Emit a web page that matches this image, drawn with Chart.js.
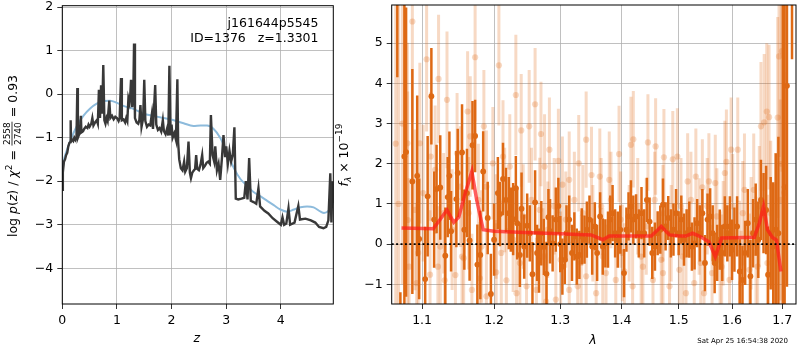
<!DOCTYPE html>
<html lang="en">
<head>
<meta charset="utf-8" />
<script src="https://cdn.jsdelivr.net/npm/chart.js@4.4.1/dist/chart.umd.min.js"></script>
<style>
  body { margin: 0; background: #fff; }
  #wrap { position: relative; width: 800px; height: 350px; }
  canvas { position: absolute; top: 0; }
  #pz { left: 0; }
  #spec { left: 335px; }
</style>
<title>p(z) + spectrum</title>
</head>
<body>
<div id="wrap">
  <canvas id="pz" width="340" height="350"></canvas>
  <canvas id="spec" width="465" height="350"></canvas>
</div>
<script>
// --- left panel: log p(z) ---
const zGrid = [0.00,0.01,0.03,0.05,0.07,0.09,0.11,0.13,0.145,0.153,0.16,0.18,0.20,0.22,0.24,0.26,0.275,0.285,0.30,0.32,
  0.34,0.35,0.38,0.40,0.43,0.46,0.48,0.50,0.53,0.55,0.57,0.60,0.63,0.65,0.67,0.69,0.71,0.73,0.75,0.77,
  0.79,0.81,0.83,0.86,0.88,0.91,0.94,0.97,1.00,1.03,1.05,1.075,1.09,1.12,1.15,1.17,1.19,1.21,1.23,1.245,
  1.258,1.28,1.30,1.313,1.33,1.36,1.39,1.41,1.43,1.45,1.48,1.50,1.52,1.55,1.58,1.61,1.64,1.66,1.70,1.72,
  1.75,1.78,1.81,1.84,1.86,1.89,1.92,1.94,1.96,1.98,2.00,2.02,2.05,2.08,2.106,2.12,2.14,2.17,2.20,2.23,
  2.25,2.28,2.31,2.335,2.355,2.38,2.41,2.43,2.45,2.47,2.50,2.53,2.56,2.58,2.61,2.64,2.67,2.70,2.72,2.75,
  2.78,2.80,2.83,2.86,2.89,2.92,2.95,2.98,3.00,3.03,3.06,3.09,3.12,3.15,3.175,3.22,3.28,3.33,3.36,3.39,
  3.42,3.45,3.50,3.55,3.59,3.62,3.70,3.77,3.85,3.93,4.00,4.03,4.06,4.10,4.14,4.17,4.25,4.32,4.35,4.45,
  4.55,4.63,4.70,4.78,4.83,4.87,4.905,4.925,4.945,4.96];
const logpz = [-2.20,-1.80,-1.55,-1.50,-1.40,-1.35,-1.20,-1.12,-1.10,-0.60,-1.08,-1.05,-1.08,-1.00,-1.05,-0.98,0.14,-1.00,-0.95,-0.90,
  -0.50,-0.88,-0.85,-0.80,-0.75,-0.78,-0.70,-0.75,-0.68,-0.55,-0.72,-0.65,-0.60,-0.68,0.10,-0.55,0.20,-0.45,0.67,-0.60,
  -0.68,-0.55,-0.62,-0.15,-0.55,-0.50,-0.58,-0.52,-0.55,-0.62,-0.55,0.37,-0.60,-0.58,-0.65,-0.55,-0.62,-0.10,-0.20,0.00,
  0.33,-0.30,0.05,1.16,-0.55,-0.65,-0.68,-0.60,-0.25,-0.75,-0.55,0.33,-0.62,-0.75,-0.70,-0.72,-0.45,-0.80,0.21,-0.70,
  -0.82,-0.78,-0.86,-0.60,-0.85,-0.92,-0.78,-0.95,0.65,-0.95,-0.70,-1.00,-0.90,-1.05,0.34,-1.10,-1.50,-1.70,-1.75,-1.55,
  -1.78,-1.70,-1.09,-1.80,-1.93,-1.80,-1.75,-1.72,-1.40,-1.72,-1.75,-1.62,-1.40,-1.70,-1.65,-1.58,-1.55,-1.60,-0.48,-1.40,
  -1.55,-1.20,-1.75,-1.60,-1.97,-1.50,-0.94,-1.45,-1.20,-1.60,-1.30,-1.55,-1.40,-0.76,-2.40,-2.42,-2.40,-2.38,-2.00,-2.42,
  -1.47,-2.45,-2.48,-2.52,-2.16,-2.58,-2.68,-2.74,-2.85,-2.93,-3.00,-2.83,-3.00,-2.97,-2.62,-3.00,-2.95,-2.57,-2.88,-2.86,
  -2.90,-2.95,-3.05,-3.08,-3.05,-2.90,-1.82,-2.95,-2.00,-2.50];
// smooth prior curve
const zPrior = [0,0.02,0.08,0.17,0.26,0.385,0.51,0.63,0.75,0.875,1.0,1.12,1.3,1.49,1.67,1.85,2.04,2.22,2.4,2.53,
  2.65,2.77,2.89,3.02,3.14,3.26,3.38,3.5,3.63,3.75,3.87,3.99,4.12,4.24,4.36,4.48,4.6,4.73,4.79,4.88,4.96];
const logpPrior = [-1.85,-1.59,-1.3,-1.0,-0.75,-0.5,-0.33,-0.22,-0.16,-0.15,-0.2,-0.27,-0.34,-0.45,-0.5,-0.55,-0.6,-0.67,-0.73,-0.72,
  -0.72,-0.8,-1.0,-1.35,-1.7,-1.95,-2.1,-2.25,-2.35,-2.45,-2.55,-2.65,-2.7,-2.65,-2.6,-2.58,-2.6,-2.7,-2.73,-2.67,-2.5];
const zTicks = [0, 1, 2, 3, 4];
const pzTicks = [-4, -3, -2, -1, 0, 1, 2];
const zRange = [0, 4.96];
const pzRange = [-4.82, 2.03];

// --- right panel: 1D spectrum ---
const lamDark = [1.0675,1.0715,1.0767,1.0789,1.0871,1.0935,1.0961,
  1.1041,1.1074,1.1124,1.1161,1.1194,1.1244,1.1313,1.1346,1.1369,1.1392,1.1465,1.1484,1.1544,1.1576,1.1613,1.1650,1.1691,1.1728,1.1760,1.1802,1.1843,1.1908,1.1954,1.2000,
  1.2055,1.2085,1.2130,1.2175,1.2215,1.2245,1.2280,1.2320,1.2340,1.2380,1.2405,1.2445,1.2490,1.2530,1.2570,1.2610,1.2640,1.2670,1.2705,1.2745,1.2785,1.2815,1.2840,1.2880,1.2930,1.2970,1.3000,
  1.3033,1.3071,1.3098,1.3141,1.3185,1.3223,1.3261,1.3304,1.3342,1.3386,1.3424,1.3467,1.3511,1.3554,1.3592,1.3641,1.3685,1.3728,1.3772,1.3810,1.3848,1.3891,1.3935,1.3978,
  1.4041,1.4082,1.4118,1.4159,1.4200,1.4247,1.4294,1.4341,1.4388,1.4435,1.4482,1.4529,1.4576,1.4624,1.4671,1.4718,1.4765,1.4812,1.4859,1.4906,1.4953,1.5000,
  1.5048,1.5097,1.5145,1.5194,1.5242,1.5291,1.5339,1.5388,1.5436,1.5485,1.5533,1.5582,1.5630,1.5667,1.5715,1.5764,1.5812,1.5861,1.5909,1.5958,1.6000,
  1.6046,1.6098,1.6150,1.6203,1.6255,1.6307,1.6359,1.6412,1.6464,1.6516,1.6569,1.6621,1.6673,1.6712,1.6765,1.6817,1.6869,1.6922,
  1.7014,1.7049,1.7098,1.7203];
const fluxDark = [7.0,-3.2,2.18,2.29,1.56,1.70,0.13,
  -0.87,1.19,3.68,0.61,1.37,1.41,-0.29,1.17,1.70,0.32,1.12,1.77,2.28,0.36,1.27,0.09,2.46,2.69,-0.51,-0.27,1.81,0.65,-1.24,0.11,
  1.27,0.75,1.62,1.10,0.77,0.61,0.62,1.39,0.52,-0.27,0.88,-0.06,0.46,0.27,-0.75,1.04,-0.22,-0.41,0.27,-0.07,-0.74,0.67,0.32,0.02,0.61,0.95,0.00,
  -0.56,-0.39,0.27,0.61,-0.22,0.19,-0.31,-0.27,0.19,0.11,0.36,0.61,-0.06,0.44,-0.22,0.69,-0.06,0.02,0.11,0.61,0.77,0.27,0.11,0.36,
  -0.72,0.36,0.69,0.94,0.61,0.69,0.27,0.77,0.27,1.10,0.56,-0.22,-0.06,0.27,0.36,0.98,0.44,0.65,0.27,0.36,0.77,0.27,
  0.61,0.11,0.27,0.36,-0.06,0.02,0.52,0.27,0.77,-0.47,0.61,0.69,0.27,-0.47,-0.22,0.11,-0.22,0.44,0.27,0.44,-0.14,
  0.11,0.44,-0.68,-0.89,-0.22,0.52,-0.80,0.27,0.61,0.11,1.10,0.77,0.85,-0.76,0.27,-0.06,0.36,0.27,
  -3.0,1.42,3.94,8.0];
const errDark = [2.85,2.0,3.9,3.6,2.8,2.0,1.5,
  1.3,1.5,1.2,1.2,1.1,1.3,1.2,1.0,1.1,1.0,1.2,1.1,1.2,1.0,1.1,1.0,1.1,0.9,1.0,1.1,1.0,0.9,1.0,0.9,
  0.9,0.8,0.9,0.8,0.9,0.8,0.9,0.8,0.9,0.8,0.9,0.8,0.8,0.7,0.8,0.8,0.7,0.8,0.8,0.7,0.8,0.7,0.8,0.7,0.8,0.7,0.7,
  0.7,0.6,0.7,0.6,0.7,0.6,0.7,0.6,0.7,0.6,0.7,0.6,0.7,0.6,0.7,0.6,0.7,0.6,0.7,0.6,0.7,0.6,0.7,0.6,
  0.6,0.55,0.6,0.65,0.6,0.55,0.6,0.65,0.6,0.55,0.6,0.65,0.6,0.55,0.6,0.65,0.6,0.55,0.6,0.65,0.6,0.55,
  0.6,0.65,0.6,0.7,0.6,0.65,0.6,0.7,0.6,0.7,0.65,0.7,0.7,0.75,0.7,0.75,0.7,0.75,0.7,0.75,0.75,
  0.8,0.75,0.8,0.85,0.8,0.85,0.9,0.85,0.9,0.95,1.0,1.0,1.1,1.2,1.4,1.6,1.9,2.4,
  9.5,5.0,5.0,3.4];

const lamLight = [1.0871,1.0806,1.1060,1.1221,1.1336,1.1728,1.2070,1.2320,1.2400,1.2520,1.2610,1.2700,1.2830,1.2970,1.1115,1.0970,1.1475,1.1622,1.1659,1.1853,
  1.1982,1.2130,1.2230,1.2755,1.3033,1.3141,1.3293,1.3413,1.3500,1.3636,1.3793,1.3957,1.4159,1.4200,1.4453,1.4588,1.4735,1.4894,1.4976,1.5164,
  1.5315,1.5436,1.5558,1.5679,1.5861,1.5891,1.5982,1.6111,1.6242,1.6425,1.6569,1.6634,1.6686,1.6732,1.6908,1.6935,1.7042,
  1.0828,1.0927,1.1106,1.1212,1.1304,1.1452,1.1567,1.1682,1.1797,1.1889,1.2030,1.2180,1.2330,1.2480,1.2630,1.2780,1.2930,1.3141,1.3277,1.3413,
  1.3576,1.3739,1.3902,1.4047,1.4188,1.4365,1.4541,1.4718,1.4835,1.5012,1.5133,1.5285,1.5467,1.5618,1.5800,1.5952,1.6176,1.6340,1.6503,1.6699,1.6863,
  1.0905,1.1014,1.1175,1.1290,1.1406,1.1521,1.1636,1.1774,1.1889,1.2030,1.2155,1.2280,1.2430,1.2555,1.2680,1.2805,1.2905,1.3087,1.3223,1.3359,
  1.3522,1.3658,1.3821,1.3984,1.4129,1.4276,1.4424,1.4571,1.4718,1.4865,1.5042,1.5224,1.5376,1.5527,1.5709,1.5830,1.6013,1.6209,1.6373,1.6536,1.6765,1.6961,
  1.0948,1.1244,1.1544,1.1820,1.2105,1.2380,1.2730,1.3005,1.3332,1.3685,1.4012,1.4335,1.4688,1.5073,1.5406,1.5770,1.6144,1.6470,1.6830,
  1.0655,1.0690,1.0740,1.0810,1.6980,1.6995];
const fluxLight = [5.54,2.51,4.60,4.11,3.59,4.65,4.45,3.71,2.83,2.93,3.48,2.74,2.35,2.07,2.18,2.51,2.26,3.30,2.68,2.93,
  2.01,2.18,1.93,1.93,1.48,1.60,2.01,2.60,1.72,1.68,1.60,2.24,2.47,2.61,2.53,2.43,2.16,2.11,2.18,1.56,
  1.68,1.41,1.56,1.52,1.77,2.05,2.35,2.35,1.35,1.35,2.93,3.03,3.30,3.16,3.15,4.67,1.28,
  -0.56,-0.97,-0.76,-0.56,-0.90,-0.77,-0.35,-1.14,-0.85,-1.30,-0.70,-0.90,-1.22,-1.05,-1.14,-1.43,-1.38,-1.14,-1.05,-0.80,
  -1.22,-0.72,-0.89,-0.68,-1.05,-0.56,-0.89,-0.72,-1.05,-0.64,-1.22,-0.97,-1.22,-0.72,-0.56,-0.89,-0.97,-0.64,-0.56,-0.47,0.27,
  0.85,1.27,1.85,0.77,0.36,1.43,0.77,1.10,1.43,0.44,1.10,0.11,0.69,1.10,0.85,0.36,0.94,0.61,1.10,0.77,
  0.27,0.94,1.10,0.61,0.27,0.94,0.44,1.10,0.77,0.27,0.94,1.10,0.44,0.94,0.69,0.27,0.94,0.77,0.27,0.94,0.77,1.10,
  -0.22,-0.06,-0.31,-0.06,-0.22,-0.47,-0.31,-0.39,-0.47,-0.31,-0.22,-0.31,-0.39,-0.31,-0.47,-0.39,-0.22,-0.22,-0.31,
  2.5,1.0,3.0,0.6,2.0,4.8];
const errLight = [2.5,2.5,1.8,1.6,1.7,1.6,1.5,1.5,1.4,1.4,1.4,1.3,1.3,1.3,1.6,2.0,1.5,1.5,1.5,1.4,
  1.4,1.4,1.3,1.3,1.2,1.2,1.2,1.2,1.2,1.2,1.2,1.2,1.2,1.2,1.2,1.2,1.2,1.2,1.2,1.2,
  1.2,1.2,1.2,1.2,1.3,1.3,1.3,1.3,1.4,1.4,1.6,1.7,1.7,1.8,2.5,2.5,3.0,
  2.2,2.0,1.6,1.5,1.5,1.4,1.4,1.4,1.4,1.3,1.3,1.3,1.3,1.3,1.3,1.2,1.2,1.2,1.2,1.2,
  1.2,1.2,1.2,1.2,1.2,1.2,1.2,1.2,1.2,1.2,1.2,1.2,1.2,1.2,1.3,1.3,1.3,1.4,1.5,1.7,2.0,
  2.0,1.7,1.6,1.5,1.5,1.5,1.4,1.4,1.4,1.3,1.3,1.3,1.3,1.3,1.3,1.2,1.2,1.2,1.2,1.2,
  1.2,1.2,1.2,1.2,1.2,1.2,1.2,1.2,1.2,1.2,1.2,1.2,1.2,1.2,1.2,1.3,1.3,1.3,1.4,1.5,1.8,2.5,
  2.0,1.5,1.4,1.4,1.3,1.3,1.2,1.2,1.2,1.2,1.2,1.2,1.2,1.2,1.2,1.2,1.3,1.4,1.8,
  4.5,5.0,4.0,3.2,4.5,3.0];

// best-fit template
const lamModel = [1.073,1.115,1.1336,1.1429,1.1498,1.159,1.1682,1.175,1.1843,1.2,1.2455,1.3,1.3495,1.3685,1.3793,1.4512,
  1.4688,1.4835,1.501,1.513,1.5255,1.5376,1.5558,1.5679,1.58,1.6438,1.6536,1.6621,1.67,1.6797,1.6882,1.6974];
const fluxModel = [0.40,0.38,0.85,0.54,0.67,1.27,1.81,1.10,0.36,0.32,0.29,0.26,0.23,0.11,0.20,0.20,
  0.44,0.23,0.20,0.20,0.27,0.20,0.06,-0.31,0.15,0.17,0.52,0.94,0.36,0.17,0.10,-0.68];

const lamTicks = [1.1, 1.2, 1.3, 1.4, 1.5, 1.6, 1.7];
const fluxTicks = [-1, 0, 1, 2, 3, 4, 5];
const lamRange = [1.0603, 1.7286];
const fluxRange = [-1.49, 5.95];

const FONT = "'DejaVu Sans', sans-serif";
Chart.defaults.font.family = FONT;
Chart.defaults.font.size = 12.5;
Chart.defaults.color = '#000';

const ORANGE = 'rgb(222,105,20)';
const ORANGE_LT = 'rgba(222,105,20,0.25)';

const pairs = (xs, ys) => xs.map((x, i) => ({ x: x, y: ys[i] }));
const uminus = v => String(v).replace('-', '\u2212');

function axis(range, ticks, fmt, fit) {
  return {
    type: 'linear', min: range[0], max: range[1],
    afterBuildTicks: s => { s.ticks = ticks.map(v => ({ value: v })); },
    afterFit: fit,
    ticks: { callback: fmt, padding: 4, autoSkip: false, maxRotation: 0 },
    grid: { color: '#b0b0b0', lineWidth: 0.8, tickColor: '#000', tickLength: 5, drawTicks: true },
    border: { display: false }
  };
}

// black box round the plot area
const frame = {
  id: 'frame',
  afterDraw(chart) {
    const { ctx, chartArea: a } = chart;
    ctx.save();
    ctx.strokeStyle = '#000';
    ctx.lineWidth = 1;
    ctx.strokeRect(a.left, a.top, a.right - a.left, a.bottom - a.top);
    ctx.restore();
  }
};

// vertical error bars, drawn just before each dataset's points
const errorBars = {
  id: 'errorBars',
  beforeDatasetDraw(chart, args) {
    const ds = chart.data.datasets[args.index];
    if (!ds.errors) return;
    const { ctx, chartArea: a, scales: { x, y } } = chart;
    ctx.save();
    ctx.beginPath();
    ctx.rect(a.left, a.top, a.right - a.left, a.bottom - a.top);
    ctx.clip();
    ctx.strokeStyle = ds.barColor;
    ctx.lineWidth = ds.barWidth;
    ds.data.forEach((p, i) => {
      const px = x.getPixelForValue(p.x);
      ctx.beginPath();
      ctx.moveTo(px, y.getPixelForValue(p.y - ds.errors[i]));
      ctx.lineTo(px, y.getPixelForValue(p.y + ds.errors[i]));
      ctx.stroke();
    });
    ctx.restore();
  }
};

// lay out a run of text pieces centred on the origin
function drawRun(ctx, parts) {
  let w = 0;
  parts.forEach(p => {
    ctx.font = p.font;
    if (p.frac) {
      p.w = Math.max(ctx.measureText(p.frac[0]).width, ctx.measureText(p.frac[1]).width) + 2;
    } else {
      p.w = ctx.measureText(p.t).width;
    }
    w += p.w;
  });
  let x = -w / 2;
  parts.forEach(p => {
    ctx.font = p.font;
    if (p.frac) {
      ctx.textAlign = 'center';
      ctx.fillText(p.frac[0], x + p.w / 2, -7);
      ctx.fillText(p.frac[1], x + p.w / 2, 3.5);
      ctx.fillRect(x + 0.5, -5.4, p.w - 1, 0.8);
      ctx.textAlign = 'left';
    } else {
      ctx.fillText(p.t, x, p.dy || 0);
    }
    x += p.w;
  });
}

const R = "12.5px " + FONT, I = "italic 12.5px " + FONT, S = "9px " + FONT, SI = "italic 9px " + FONT;

const pzText = {
  id: 'pzText',
  afterDraw(chart) {
    const ctx = chart.ctx;
    ctx.save();
    ctx.fillStyle = '#000';
    ctx.textBaseline = 'alphabetic';
    ctx.font = R;
    ctx.textAlign = 'right';
    ctx.fillText('j161644p5545', 318.5, 26.5);
    ctx.fillText('ID=1376   z=1.3301', 318.5, 41.5);
    ctx.textAlign = 'center';
    ctx.font = I;
    const a = chart.chartArea;
    ctx.fillText('z', (a.left + a.right) / 2 - 1, 342);
    ctx.textAlign = 'left';
    ctx.translate(17, 156);
    ctx.rotate(-Math.PI / 2);
    drawRun(ctx, [
      { t: 'log ', font: R }, { t: 'p', font: I }, { t: '(', font: R }, { t: 'z', font: I },
      { t: ') / ', font: R }, { t: '\u03c7', font: I }, { t: '2', font: S, dy: -5.5 },
      { t: ' = ', font: R }, { frac: ['2558', '2740'], font: S }, { t: ' = 0.93', font: R }
    ]);
    ctx.restore();
  }
};

const specText = {
  id: 'specText',
  afterDraw(chart) {
    const ctx = chart.ctx;
    const a = chart.chartArea;
    ctx.save();
    ctx.fillStyle = '#000';
    ctx.font = I;
    ctx.textAlign = 'center';
    ctx.fillText('\u03bb', (a.left + a.right) / 2 - 1, 344);
    ctx.font = "7px " + FONT;
    ctx.textAlign = 'right';
    ctx.fillText('Sat Apr 25 16:54:38 2020', 453, 342.5);
    ctx.textAlign = 'left';
    ctx.translate(13, 155);
    ctx.rotate(-Math.PI / 2);
    drawRun(ctx, [
      { t: 'f', font: I }, { t: '\u03bb', font: SI, dy: 3 }, { t: ' \u00d7 10', font: R },
      { t: '\u221219', font: S, dy: -6 }
    ]);
    ctx.restore();
  }
};

new Chart(document.getElementById('pz'), {
  type: 'line',
  data: {
    datasets: [
      { data: pairs(zGrid, logpz), borderColor: '#383838', borderWidth: 2.4, pointRadius: 0, order: 1 },
      { data: pairs(zPrior, logpPrior), borderColor: '#8dbbdc', borderWidth: 2, pointRadius: 0,
        cubicInterpolationMode: 'monotone', order: 2 }
    ]
  },
  options: {
    responsive: false, animation: false, events: [],
    layout: { padding: { left: 0, top: 5.7, right: 6.7, bottom: 0 } },
    plugins: { legend: { display: false }, tooltip: { enabled: false } },
    scales: {
      x: axis(zRange, zTicks, v => uminus(v), s => { s.height = 46; s.paddingLeft = 0; s.paddingRight = 0; }),
      y: axis(pzRange, pzTicks, v => uminus(v), s => { s.width = 62.3; s.paddingTop = 0; s.paddingBottom = 0; })
    }
  },
  plugins: [frame, pzText]
});

const lamAxis = axis(lamRange, lamTicks, v => v.toFixed(1), s => { s.height = 46; s.paddingLeft = 0; s.paddingRight = 0; });
lamAxis.type = 'logarithmic';

new Chart(document.getElementById('spec'), {
  type: 'line',
  data: {
    datasets: [
      { data: pairs(lamLight, fluxLight), errors: errLight, barColor: ORANGE_LT, barWidth: 3,
        showLine: false, pointRadius: 3.1, pointBackgroundColor: ORANGE_LT, pointBorderWidth: 0, order: 4 },
      { data: pairs(lamDark, fluxDark), errors: errDark, barColor: ORANGE, barWidth: 2.5,
        showLine: false, pointRadius: 2.9, pointBackgroundColor: ORANGE, pointBorderWidth: 0, order: 3 },
      { data: pairs(lamModel, fluxModel), borderColor: 'rgba(255,25,25,0.7)', borderWidth: 3.5,
        pointRadius: 0, order: 2 },
      { data: pairs(lamRange, [0, 0]), borderColor: '#000', borderWidth: 1.8, borderDash: [2, 2.4],
        pointRadius: 0, order: 1 }
    ]
  },
  options: {
    responsive: false, animation: false, events: [],
    layout: { padding: { left: 0, top: 5, right: 0.7, bottom: 0 } },
    plugins: { legend: { display: false }, tooltip: { enabled: false } },
    scales: {
      x: lamAxis,
      y: axis(fluxRange, fluxTicks, v => uminus(v), s => { s.width = 56.7; s.paddingTop = 0; s.paddingBottom = 0; })
    }
  },
  plugins: [errorBars, frame, specText]
});
</script>
</body>
</html>
